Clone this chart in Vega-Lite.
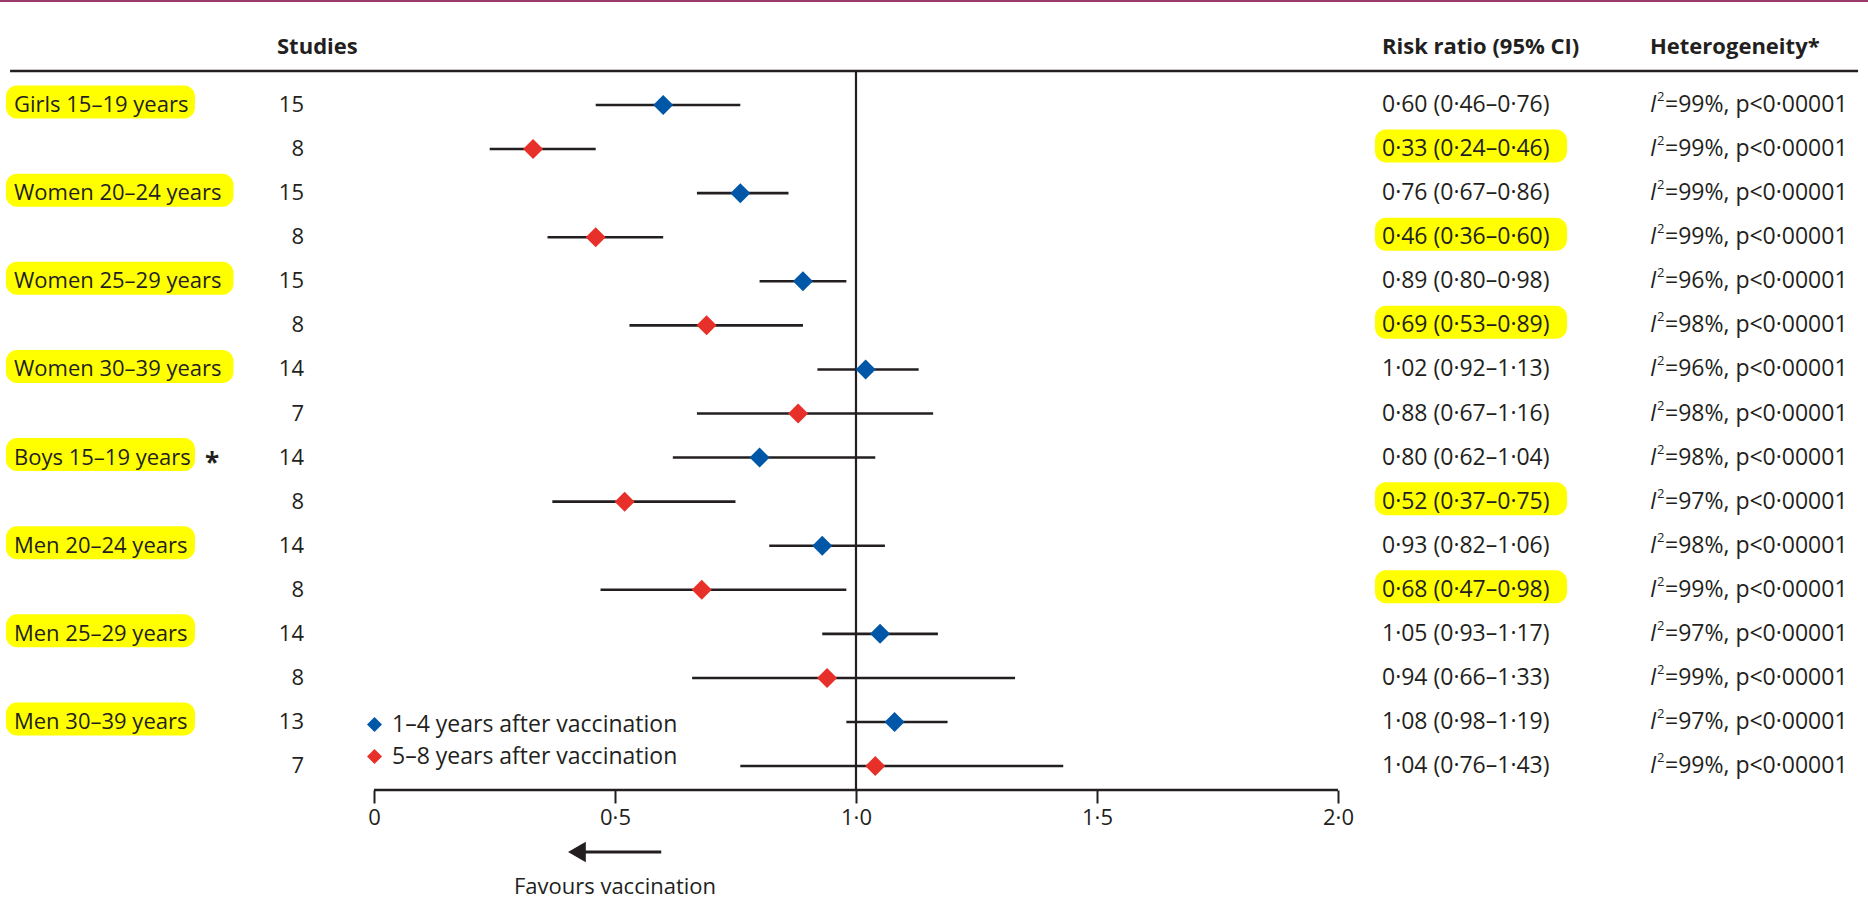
{
  "$schema": "https://vega.github.io/schema/vega-lite/v6.json",
  "width": 1868,
  "height": 790,
  "autosize": {"type": "none"},
  "padding": {"left": 0, "right": 0, "top": 0, "bottom": 124},
  "background": "white",
  "config": {"view": {"stroke": null}, "font": "Open Sans", "text": {"font": "Open Sans", "fontSize": 22, "color": "#231f20"}},
  "data": {
    "values": [
      {"row": 1, "label": "Girls 15–19 years", "n": 15, "rr": 0.60, "lo": 0.46, "hi": 0.76, "ci": "0·60 (0·46–0·76)", "het": "=99%, p<0·00001", "period": "1–4 years after vaccination"},
      {"row": 2, "n": 8, "rr": 0.33, "lo": 0.24, "hi": 0.46, "ci": "0·33 (0·24–0·46)", "het": "=99%, p<0·00001", "period": "5–8 years after vaccination"},
      {"row": 3, "label": "Women 20–24 years", "n": 15, "rr": 0.76, "lo": 0.67, "hi": 0.86, "ci": "0·76 (0·67–0·86)", "het": "=99%, p<0·00001", "period": "1–4 years after vaccination"},
      {"row": 4, "n": 8, "rr": 0.46, "lo": 0.36, "hi": 0.60, "ci": "0·46 (0·36–0·60)", "het": "=99%, p<0·00001", "period": "5–8 years after vaccination"},
      {"row": 5, "label": "Women 25–29 years", "n": 15, "rr": 0.89, "lo": 0.80, "hi": 0.98, "ci": "0·89 (0·80–0·98)", "het": "=96%, p<0·00001", "period": "1–4 years after vaccination"},
      {"row": 6, "n": 8, "rr": 0.69, "lo": 0.53, "hi": 0.89, "ci": "0·69 (0·53–0·89)", "het": "=98%, p<0·00001", "period": "5–8 years after vaccination"},
      {"row": 7, "label": "Women 30–39 years", "n": 14, "rr": 1.02, "lo": 0.92, "hi": 1.13, "ci": "1·02 (0·92–1·13)", "het": "=96%, p<0·00001", "period": "1–4 years after vaccination"},
      {"row": 8, "n": 7, "rr": 0.88, "lo": 0.67, "hi": 1.16, "ci": "0·88 (0·67–1·16)", "het": "=98%, p<0·00001", "period": "5–8 years after vaccination"},
      {"row": 9, "label": "Boys 15–19 years", "note": "*", "n": 14, "rr": 0.80, "lo": 0.62, "hi": 1.04, "ci": "0·80 (0·62–1·04)", "het": "=98%, p<0·00001", "period": "1–4 years after vaccination"},
      {"row": 10, "n": 8, "rr": 0.52, "lo": 0.37, "hi": 0.75, "ci": "0·52 (0·37–0·75)", "het": "=97%, p<0·00001", "period": "5–8 years after vaccination"},
      {"row": 11, "label": "Men 20–24 years", "n": 14, "rr": 0.93, "lo": 0.82, "hi": 1.06, "ci": "0·93 (0·82–1·06)", "het": "=98%, p<0·00001", "period": "1–4 years after vaccination"},
      {"row": 12, "n": 8, "rr": 0.68, "lo": 0.47, "hi": 0.98, "ci": "0·68 (0·47–0·98)", "het": "=99%, p<0·00001", "period": "5–8 years after vaccination"},
      {"row": 13, "label": "Men 25–29 years", "n": 14, "rr": 1.05, "lo": 0.93, "hi": 1.17, "ci": "1·05 (0·93–1·17)", "het": "=97%, p<0·00001", "period": "1–4 years after vaccination"},
      {"row": 14, "n": 8, "rr": 0.94, "lo": 0.66, "hi": 1.33, "ci": "0·94 (0·66–1·33)", "het": "=99%, p<0·00001", "period": "5–8 years after vaccination"},
      {"row": 15, "label": "Men 30–39 years", "n": 13, "rr": 1.08, "lo": 0.98, "hi": 1.19, "ci": "1·08 (0·98–1·19)", "het": "=97%, p<0·00001", "period": "1–4 years after vaccination"},
      {"row": 16, "n": 7, "rr": 1.04, "lo": 0.76, "hi": 1.43, "ci": "1·04 (0·76–1·43)", "het": "=99%, p<0·00001", "period": "5–8 years after vaccination"}
    ]
  },
  "layer": [
    {
      "data": {"values": [{}]},
      "mark": {"type": "rule", "color": "#9b3b6b", "strokeWidth": 2},
      "encoding": {
        "x": {"datum": -0.7759, "scale": {"domain": [-0.7759, 3.0996], "nice": false, "zero": false, "padding": 0}},
        "x2": {"datum": 3.0996},
        "y": {"datum": -1.36, "scale": {"domain": [-1.3826, 16.543], "reverse": true, "nice": false, "zero": false, "padding": 0}, "axis": null}
      }
    },
    {
      "transform": [{"filter": "isValid(datum.label) && indexof(datum.label, 'Women') == 0"}],
      "mark": {"type": "bar", "height": 33, "cornerRadius": 11, "color": "#ffff00", "yOffset": -3},
      "encoding": {"x": {"datum": -0.7635}, "x2": {"datum": -0.2915}, "y": {"field": "row", "type": "quantitative"}}
    },
    {
      "transform": [{"filter": "isValid(datum.label) && indexof(datum.label, 'Women') != 0"}],
      "mark": {"type": "bar", "height": 33, "cornerRadius": 11, "color": "#ffff00", "yOffset": -3},
      "encoding": {"x": {"datum": -0.7635}, "x2": {"datum": -0.3714}, "y": {"field": "row", "type": "quantitative"}}
    },
    {
      "transform": [{"filter": "datum.period == '5–8 years after vaccination' && datum.hi < 1"}],
      "mark": {"type": "bar", "height": 33, "cornerRadius": 11, "color": "#ffff00", "yOffset": -3},
      "encoding": {"x": {"datum": 2.0768}, "x2": {"datum": 2.4751}, "y": {"field": "row", "type": "quantitative"}}
    },
    {
      "data": {"values": [{}]},
      "mark": {"type": "rule", "color": "#231f20", "strokeWidth": 2.5},
      "encoding": {"x": {"datum": -0.755}, "x2": {"datum": 3.079}, "y": {"datum": 0.2285}}
    },
    {
      "data": {"values": [{}]},
      "mark": {"type": "rule", "color": "#231f20", "strokeWidth": 2.2},
      "encoding": {"x": {"datum": 1}, "y": {"datum": 0.2285}, "y2": {"datum": 16.543}}
    },
    {
      "data": {"values": [{}]},
      "mark": {"type": "rule", "color": "#231f20", "strokeWidth": 2.5},
      "encoding": {"x": {"datum": 0}, "x2": {"datum": 2}, "y": {"datum": 16.543}}
    },
    {
      "mark": {"type": "rule", "color": "#231f20", "strokeWidth": 2.6},
      "encoding": {
        "x": {
          "field": "lo", "type": "quantitative",
          "scale": {"domain": [-0.7759, 3.0996], "nice": false, "zero": false, "padding": 0},
          "axis": {
            "values": [0, 0.5, 1, 1.5, 2], "domain": false, "grid": false, "ticks": true,
            "tickSize": 13, "tickWidth": 2, "tickColor": "#231f20",
            "labelFont": "Open Sans", "labelFontSize": 22, "labelColor": "#231f20", "labelPadding": 4,
            "labelFlush": false, "labelOverlap": false, "title": null,
            "labelExpr": "datum.value == 0 ? '0' : replace(format(datum.value, '.1f'), '.', '·')"
          }
        },
        "x2": {"field": "hi"},
        "y": {"field": "row", "type": "quantitative"}
      }
    },
    {
      "mark": {"type": "point", "shape": "diamond", "filled": true, "size": 400, "opacity": 1, "strokeWidth": 0},
      "encoding": {
        "x": {"field": "rr", "type": "quantitative"},
        "y": {"field": "row", "type": "quantitative"},
        "color": {
          "field": "period", "type": "nominal",
          "scale": {"domain": ["1–4 years after vaccination", "5–8 years after vaccination"], "range": ["#0057a8", "#e8302a"]},
          "legend": {
            "title": null, "orient": "none", "legendX": 363, "legendY": 713,
            "symbolType": "diamond", "symbolSize": 225, "symbolStrokeWidth": 0,
            "labelFont": "Open Sans", "labelFontSize": 23, "labelColor": "#231f20", "labelLimit": 0,
            "rowPadding": 8, "labelOffset": 6, "padding": 0
          }
        }
      }
    },
    {
      "transform": [{"filter": "isValid(datum.label)"}],
      "mark": {"type": "text", "align": "left", "baseline": "middle", "fontSize": 22, "fill": "#231f20"},
      "encoding": {"x": {"datum": -0.7469}, "y": {"field": "row", "type": "quantitative"}, "text": {"field": "label"}}
    },
    {
      "transform": [{"filter": "isValid(datum.note)"}],
      "mark": {"type": "text", "align": "center", "baseline": "middle", "fontSize": 26, "fontWeight": "bold", "dy": 6, "fill": "#231f20"},
      "encoding": {"x": {"datum": -0.336}, "y": {"field": "row", "type": "quantitative"}, "text": {"field": "note"}}
    },
    {
      "mark": {"type": "text", "align": "right", "baseline": "middle", "fontSize": 22, "fill": "#231f20"},
      "encoding": {"x": {"datum": -0.1452}, "y": {"field": "row", "type": "quantitative"}, "text": {"field": "n"}}
    },
    {
      "mark": {"type": "text", "align": "left", "baseline": "middle", "fontSize": 23, "fill": "#231f20"},
      "encoding": {"x": {"datum": 2.0913}, "y": {"field": "row", "type": "quantitative"}, "text": {"field": "ci"}}
    },
    {
      "mark": {"type": "text", "text": "I", "fontStyle": "italic", "align": "left", "baseline": "middle", "fontSize": 23, "fill": "#231f20"},
      "encoding": {"x": {"datum": 2.6473}, "y": {"field": "row", "type": "quantitative"}}
    },
    {
      "mark": {"type": "text", "text": "2", "align": "left", "baseline": "middle", "fontSize": 13, "dx": 7, "dy": -8, "fill": "#231f20"},
      "encoding": {"x": {"datum": 2.6473}, "y": {"field": "row", "type": "quantitative"}}
    },
    {
      "mark": {"type": "text", "align": "left", "baseline": "middle", "fontSize": 23, "dx": 15, "fill": "#231f20"},
      "encoding": {"x": {"datum": 2.6473}, "y": {"field": "row", "type": "quantitative"}, "text": {"field": "het"}}
    },
    {
      "data": {"values": [{}]},
      "mark": {"type": "text", "text": "Studies", "align": "left", "baseline": "middle", "fontSize": 22, "fontWeight": "bold", "fill": "#231f20"},
      "encoding": {"x": {"datum": -0.2012}, "y": {"datum": -0.316}}
    },
    {
      "data": {"values": [{}]},
      "mark": {"type": "text", "text": "Risk ratio (95% CI)", "align": "left", "baseline": "middle", "fontSize": 22, "fontWeight": "bold", "fill": "#231f20"},
      "encoding": {"x": {"datum": 2.0913}, "y": {"datum": -0.316}}
    },
    {
      "data": {"values": [{}]},
      "mark": {"type": "text", "text": "Heterogeneity*", "align": "left", "baseline": "middle", "fontSize": 22, "fontWeight": "bold", "fill": "#231f20"},
      "encoding": {"x": {"datum": 2.6473}, "y": {"datum": -0.316}}
    },
    {
      "data": {"values": [{}]},
      "mark": {"type": "rule", "color": "#231f20", "strokeWidth": 3},
      "encoding": {"x": {"datum": 0.43}, "x2": {"datum": 0.596}, "y": {"datum": 17.95}}
    },
    {
      "data": {"values": [{}]},
      "mark": {"type": "point", "shape": "triangle-left", "filled": true, "size": 420, "opacity": 1, "color": "#231f20", "strokeWidth": 0},
      "encoding": {"x": {"datum": 0.421}, "y": {"datum": 17.95}}
    },
    {
      "data": {"values": [{}]},
      "mark": {"type": "text", "text": "Favours vaccination", "align": "center", "baseline": "middle", "fontSize": 22, "fill": "#231f20"},
      "encoding": {"x": {"datum": 0.5}, "y": {"datum": 18.745}}
    }
  ]
}
